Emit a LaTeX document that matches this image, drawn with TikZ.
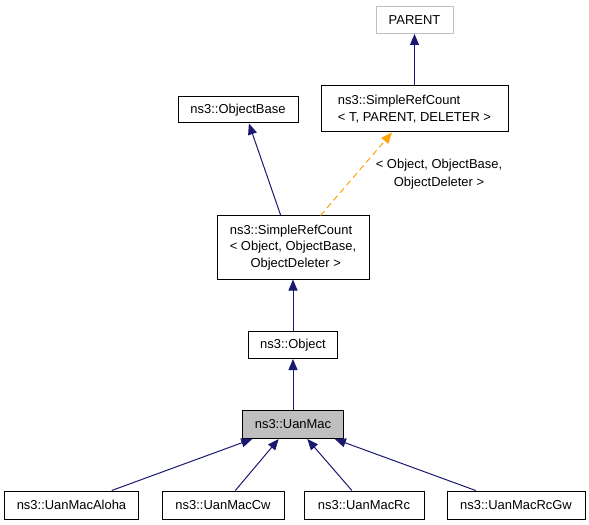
\documentclass[tikz,border=0pt]{standalone}
\usepackage{fontspec}
\setmainfont{Liberation Sans}
\usetikzlibrary{arrows.meta,calc}

\definecolor{azul}{RGB}{25,25,112}
\definecolor{gris}{RGB}{191,191,191}
\definecolor{naranja}{RGB}{255,165,0}

\tikzset{
  caja/.style={draw=black, line width=1bp, inner sep=0pt, minimum height=27bp,
    font=\fontsize{13}{16.5}\selectfont},
  flecha/.style={draw=azul, line width=1bp, -{Triangle[length=11bp,width=9bp]}},
}

\begin{document}
\begin{tikzpicture}[x=1bp, y=-1bp]
        \useasboundingbox (0,0) rectangle (589,525);

        % Cajas superiores
        \node[caja, draw=gris, minimum width=77bp] (parent) at (414.5,20) {PARENT};
        \node[caja, minimum width=187bp, minimum height=46bp, align=left] (srct) at (414.5,109)
            {ns3::SimpleRefCount\\< T, PARENT, DELETER >};
        \node[caja, minimum width=120bp, minimum height=26bp] (base) at (238,110) {ns3::ObjectBase};

        % Caja central y Object
        \node[caja, minimum width=152bp, minimum height=63bp, align=left] (mid) at (293,247.5)
            {ns3::SimpleRefCount\\< Object, ObjectBase,\\\hspace*{1.6em}ObjectDeleter >};
        \node[caja, minimum width=89bp] (object) at (293,345) {ns3::Object};
        \node[caja, fill=gris, minimum width=101bp, minimum height=28bp] (uanmac) at (293,424.5) {ns3::UanMac};

        % Flechas de arriba
        \draw[flecha] (srct.north) -- (parent.south);
        \draw[flecha] ($(mid.north west)!.42!(mid.north east)$) -- ($(base.south west)!.59!(base.south east)$);
        \draw[flecha, draw=naranja, dash pattern=on 6bp off 4bp]
            ($(mid.north west)!.68!(mid.north east)$) -- ($(srct.south west)!.38!(srct.south east)$);
        \node[align=center, inner sep=0pt, font=\fontsize{13}{17.5}\selectfont] (lbl) at (439,174)
            {< Object, ObjectBase,\\ObjectDeleter >};
        \draw[flecha] (object.north) -- (mid.south);
        \draw[flecha] (uanmac.north) -- (object.south);

        % Clases hijas
        \foreach \n/\x/\w/\t/\a/\b in {aloha/71.5/133/UanMacAloha/.80/.10, cw/223/122/UanMacCw/.60/.36,
            rc/364/120/UanMacRc/.40/.64, rcgw/516/138/UanMacRcGw/.21/.91}
        {
            \node[caja, minimum width=\w bp, minimum height=28bp] (\n) at (\x,505) {ns3::\t};
            \draw[flecha] ($(\n.north west)!\a!(\n.north east)$) -- ($(uanmac.south west)!\b!(uanmac.south east)$);
        }
    \end{tikzpicture}
\end{document}
